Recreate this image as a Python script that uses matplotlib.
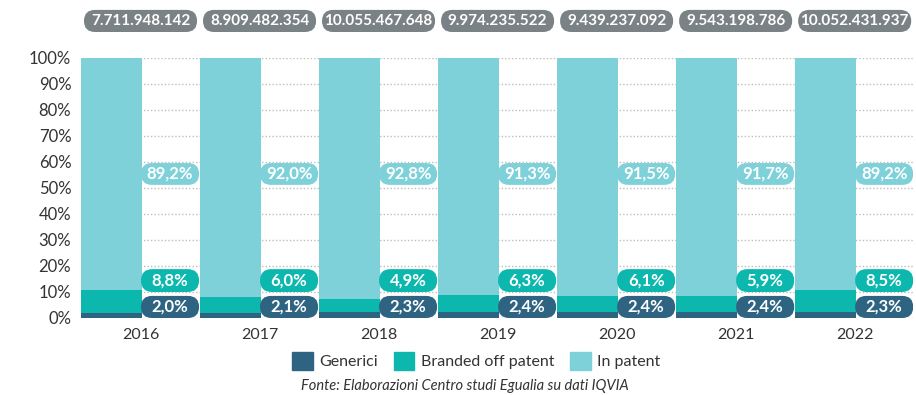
import matplotlib
matplotlib.use('Agg')
from matplotlib import pyplot as plt
from matplotlib.patches import FancyBboxPatch, Patch
import numpy as np

plt.rcParams['font.family'] = ['Lato', 'DejaVu Sans']

years = ['2016', '2017', '2018', '2019', '2020', '2021', '2022']
totals = ['7.711.948.142', '8.909.482.354', '10.055.467.648', '9.974.235.522',
          '9.439.237.092', '9.543.198.786', '10.052.431.937']
generici = [2.0, 2.1, 2.3, 2.4, 2.4, 2.4, 2.3]
branded = [8.8, 6.0, 4.9, 6.3, 6.1, 5.9, 8.5]
in_patent = [89.2, 92.0, 92.8, 91.3, 91.5, 91.7, 89.2]
yticks = [0, 10, 20, 30, 40, 50, 60, 70, 80, 90, 100]

c_gen = '#2E6482'
c_brand = '#0CB8AE'
c_inpat = '#7ED1D9'
c_total = '#7A8285'
c_text = '#333333'

def fmt(v):
    return f'{v:.1f}'.replace('.', ',') + '%'

fig = plt.figure(figsize=(9.16, 3.95), dpi=100)
ax = fig.add_axes([81/916, 77/395, 832/916, 260/395])

x = np.arange(len(years))
w = 61/119

ax.bar(x, generici, w, align='edge', color=c_gen, zorder=2)
ax.bar(x, branded, w, bottom=generici, align='edge', color=c_brand, zorder=2)
ax.bar(x, in_patent, w, bottom=np.array(generici) + np.array(branded),
       align='edge', color=c_inpat, zorder=2)

ax.set_xlim(0, 6.99)
ax.set_ylim(0, 100)

# dotted grid behind the bars
for t in yticks:
    ax.axhline(t, color='#BDBDBD', lw=1.0, ls=(0, (1, 1.5)), zorder=1)

# x units per pixel vs y units per pixel, keeps pill corners round
aspect = (100/260) / (1/119)

def pill(x0, x1, y0, y1, color, text, size, clip=True):
    r = (y1 - y0) / aspect / 2
    p = FancyBboxPatch((x0, y0), x1 - x0, y1 - y0,
                       boxstyle=f'round,pad=0,rounding_size={r}',
                       mutation_aspect=aspect, fc=color, ec='none',
                       zorder=3, clip_on=clip)
    ax.add_patch(p)
    ax.text((x0 + x1) / 2, (y0 + y1) / 2, text, color='white', fontsize=size,
            fontweight='bold', ha='center', va='center', zorder=4, clip_on=False)

for i in range(len(years)):
    g0, g1 = i + 0.504, i + 0.992
    pill(g0, g1, 51.2, 59.6, c_inpat, fmt(in_patent[i]), 12)
    pill(g0, g1, 10.0, 18.8, c_brand, fmt(branded[i]), 12)
    pill(g0, g1, 0.0, 8.5, c_gen, fmt(generici[i]), 12)
    pill(i + 0.025, i + 0.975, 110.0, 118.5, c_total, totals[i], 11, clip=False)

ax.set_xticks(x + 0.5)
ax.set_xticklabels(years, fontsize=11.5, color=c_text)
ax.set_yticks(yticks)
ax.set_yticklabels([f'{t}%' for t in yticks], fontsize=12, color=c_text)
ax.tick_params(length=0)
ax.tick_params(axis='y', pad=7)
ax.tick_params(axis='x', pad=7)
for s in ax.spines.values():
    s.set_visible(False)

handles = [Patch(color=c_gen, label='Generici'),
           Patch(color=c_brand, label='Branded off patent'),
           Patch(color=c_inpat, label='In patent')]
fig.legend(handles=handles, loc='center', bbox_to_anchor=(0.52, 0.086), ncol=3,
           frameon=False, fontsize=11.5, handlelength=1.3, handleheight=1.3,
           handletextpad=0.4, columnspacing=1.0, labelcolor=c_text)

fig.text(0.508, 0.023, 'Fonte: Elaborazioni Centro studi Egualia su dati IQVIA',
         ha='center', va='center', fontsize=10.5, style='italic', color=c_text)

plt.savefig('out.png', dpi=100)
plt.close()
